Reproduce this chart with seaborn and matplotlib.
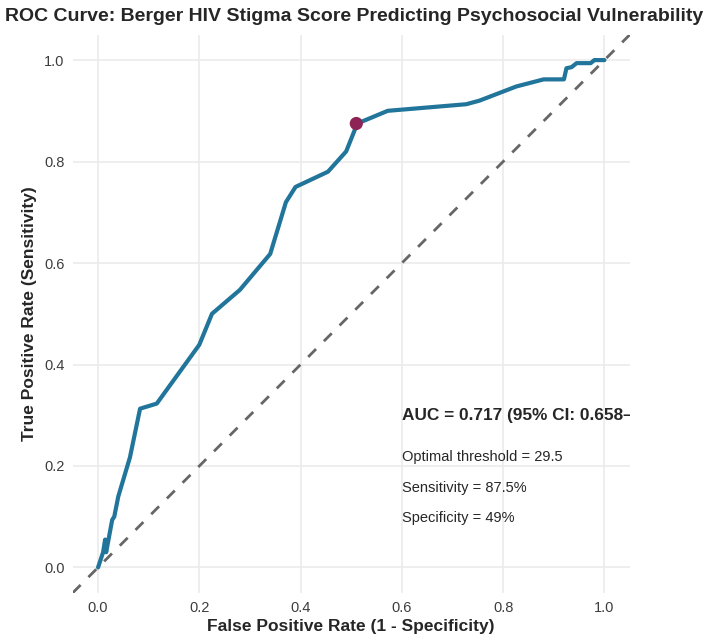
import seaborn as sns
import pandas as pd
from matplotlib import pyplot as plt

# ROC curve points
fpr = [0.0, 0.010, 0.014, 0.016, 0.028, 0.032, 0.040, 0.063, 0.083, 0.116, 0.200, 0.225,
       0.280, 0.340, 0.371, 0.390, 0.454, 0.490, 0.512, 0.572, 0.727, 0.753, 0.826,
       0.880, 0.920, 0.925, 0.935, 0.945, 0.973, 0.980, 1.0]
tpr = [0.0, 0.030, 0.055, 0.030, 0.094, 0.100, 0.140, 0.217, 0.313, 0.323, 0.439, 0.500,
       0.547, 0.618, 0.720, 0.750, 0.780, 0.820, 0.875, 0.900, 0.913, 0.920, 0.948,
       0.962, 0.962, 0.984, 0.986, 0.994, 0.994, 1.0, 1.0]

opt_fpr = [0.51]
opt_tpr = [0.875]

ticks = [0.0, 0.2, 0.4, 0.6, 0.8, 1.0]
tick_labels = ["0.0", "0.2", "0.4", "0.6", "0.8", "1.0"]

roc = pd.DataFrame({"fpr": fpr, "tpr": tpr})

sns.set_theme(style="whitegrid")
plt.rcParams["font.family"] = ["Liberation Sans", "DejaVu Sans"]

fig = plt.figure(figsize=(7.06, 6.43), dpi=100)
ax = fig.add_axes([0.103, 0.078, 0.789, 0.868])

ax.axline((0, 0), (1, 1), color="#666666", linestyle=(0, (4, 4)), linewidth=2, zorder=1)
sns.lineplot(data=roc, x="fpr", y="tpr", sort=False, estimator=None,
             color="#21759b", linewidth=3, ax=ax, zorder=2)
sns.scatterplot(x=opt_fpr, y=opt_tpr, color="#8e2456", s=90, edgecolor="none", ax=ax, zorder=3)

ax.text(0.6, 0.30, "AUC = 0.717 (95% CI: 0.658\u20130.776)", fontsize=12.4, fontweight="bold",
        va="center", ha="left", clip_on=True)
ax.text(0.6, 0.218, "Optimal threshold = 29.5", fontsize=10.5, va="center", ha="left")
ax.text(0.6, 0.157, "Sensitivity = 87.5%", fontsize=10.5, va="center", ha="left")
ax.text(0.6, 0.098, "Specificity = 49%", fontsize=10.5, va="center", ha="left")

ax.set_xlim(-0.05, 1.05)
ax.set_ylim(-0.05, 1.05)
ax.set_xticks(ticks)
ax.set_xticklabels(tick_labels)
ax.set_yticks(ticks)
ax.set_yticklabels(tick_labels)
ax.tick_params(axis="both", labelsize=10.5, labelcolor="#3d3d3d", length=0, pad=6)
ax.grid(True, color="#ebebeb", linewidth=1.2)
for s in ax.spines.values():
    s.set_visible(False)
ax.set_facecolor("white")

ax.set_xlabel("False Positive Rate (1 - Specificity)", fontsize=12.5, fontweight="bold", labelpad=3)
ax.set_ylabel("True Positive Rate (Sensitivity)", fontsize=12.5, fontweight="bold", labelpad=5)
fig.text(0.007, 0.975, "ROC Curve: Berger HIV Stigma Score Predicting Psychosocial Vulnerability",
         fontsize=14.0, fontweight="bold", ha="left", va="center")

fig.savefig("out.png", dpi=100, facecolor="white")
